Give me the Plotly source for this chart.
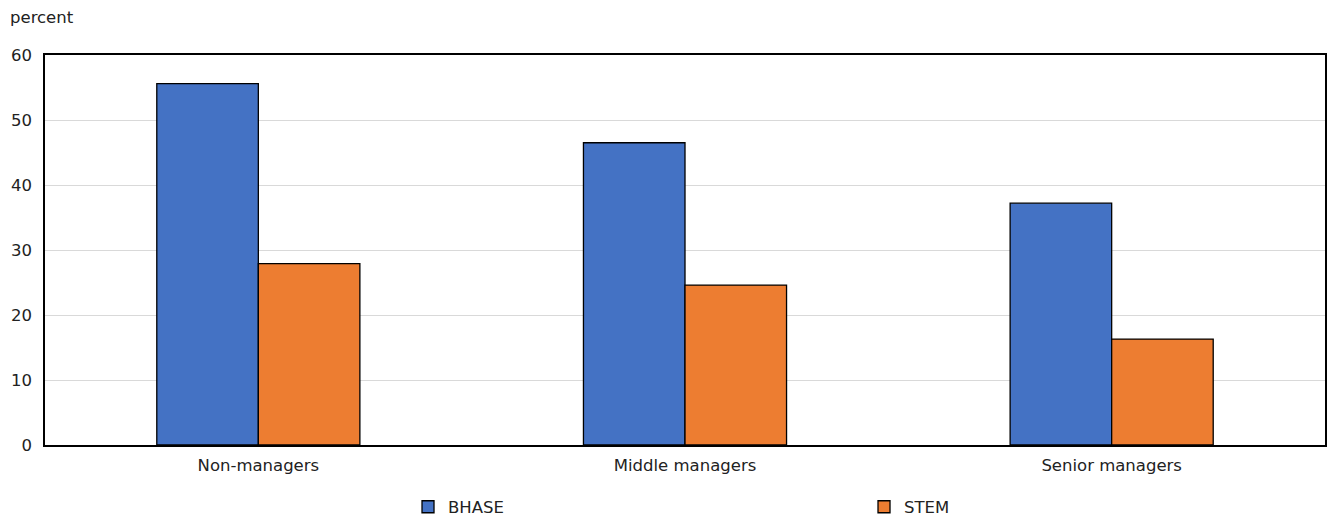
import plotly.graph_objects as go

categories = ["Non-managers", "Middle managers", "Senior managers"]
bhase = [55.6, 46.5, 37.2]
stem = [27.9, 24.6, 16.3]
y_ticks = [0, 10, 20, 30, 40, 50, 60]

FONT = "DejaVu Sans"
FS = 16.5

fig = go.Figure()
fig.add_trace(go.Bar(name="BHASE", x=categories, y=bhase,
                     marker=dict(color="#4472c4", line=dict(color="#000000", width=1.3))))
fig.add_trace(go.Bar(name="STEM", x=categories, y=stem,
                     marker=dict(color="#ed7d31", line=dict(color="#000000", width=1.3))))

fig.update_layout(
    width=1330, height=516,
    margin=dict(l=45, r=5, t=55, b=71, autoexpand=False),
    plot_bgcolor="white", paper_bgcolor="white",
    barmode="group", bargap=0.524, bargroupgap=0,
    font=dict(family=FONT, size=FS, color="#222222"),
    showlegend=True,
    legend=dict(orientation="h", x=0.2836, xanchor="left", y=-0.159, yanchor="middle",
                entrywidth=411, entrywidthmode="pixels", itemwidth=30,
                font=dict(family=FONT, size=FS, color="#222222"), traceorder="normal"),
    annotations=[dict(text="percent", xref="paper", yref="paper", x=-0.0289, y=1.095,
                      xanchor="left", yanchor="middle", showarrow=False,
                      font=dict(family=FONT, size=FS, color="#222222"))],
)
fig.update_xaxes(showline=True, linecolor="black", linewidth=1.5, mirror=True,
                 ticks="", tickfont=dict(size=FS), ticklabelstandoff=4)
fig.update_yaxes(range=[0, 60], tickvals=y_ticks, showgrid=True, gridcolor="#d9d9d9",
                 gridwidth=1, showline=True, linecolor="black", linewidth=1.5, mirror=True,
                 ticks="", zeroline=False, tickfont=dict(size=FS), ticklabelstandoff=8)

fig.write_html("out.html")
